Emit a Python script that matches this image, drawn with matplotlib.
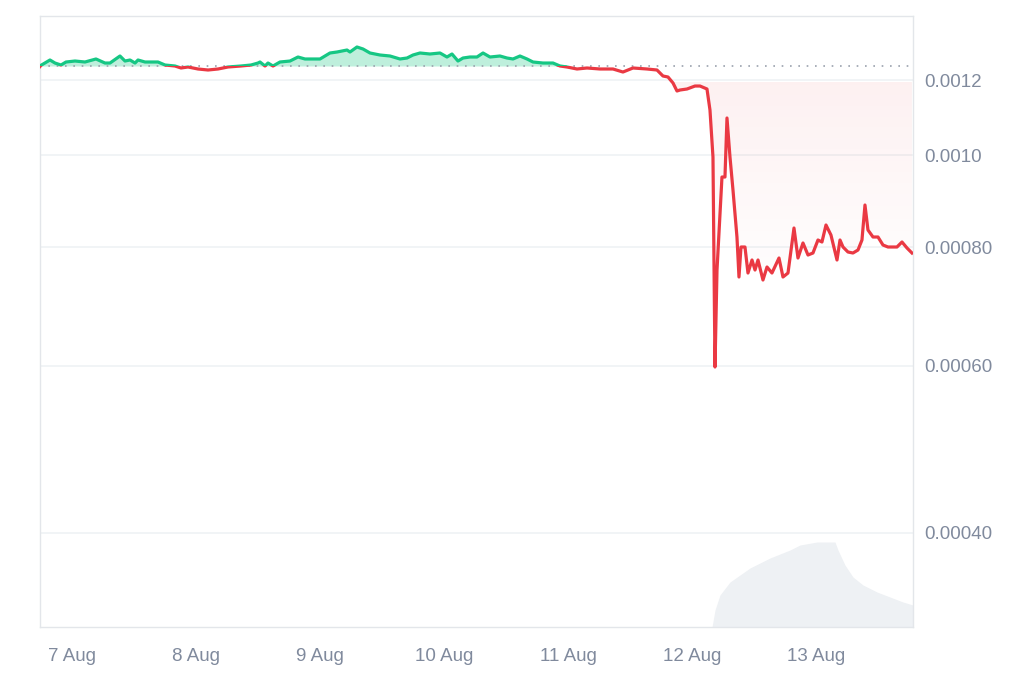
import numpy as np
import matplotlib
matplotlib.use("Agg")
import matplotlib.pyplot as plt
import matplotlib.transforms as mtransforms
from matplotlib.patches import Rectangle
from matplotlib.path import Path

# ---- data (hours since 7 Aug 00:00, price in USD) ----
hours = [-6.19, -6.0, -4.26, -3.29, -2.13, -1.16, 0.58, 2.51, 4.64, 6.38, 7.35, 9.28, 10.25, 11.22,
         12.19, 12.77, 14.12, 16.63, 17.99, 19.92, 21.08, 22.44, 24.37, 26.31, 28.24, 30.17,
         32.69, 34.62, 35.98, 36.36, 37.33, 37.91, 38.88, 40.23, 42.17, 43.71, 45.07, 47.97,
         49.90, 51.26, 53.19, 53.77, 55.12, 56.29, 57.64, 59.57, 61.51, 63.44, 64.80, 65.96,
         67.31, 69.24, 71.18, 72.53, 73.50, 74.66, 75.63, 76.98, 78.33, 79.50, 80.85, 82.78,
         84.14, 85.30, 86.65, 88.01, 89.17, 91.10, 93.04, 94.39, 95.74, 97.68, 99.61, 102.13,
         104.64, 106.57, 108.51, 111.22, 113.15, 114.31, 115.28, 116.25, 117.02, 117.60, 118.96,
         120.50, 121.47, 122.82, 123.40, 123.98, 124.37, 124.76, 125.72, 126.30, 126.69, 127.27,
         127.85, 128.62, 129.01, 129.40, 130.17, 130.75, 131.53, 132.11, 132.69, 133.65, 134.43,
         135.39, 136.75, 137.52, 138.49, 139.65, 140.42, 141.39, 142.36, 143.32, 144.29, 145.06,
         145.84, 146.80, 147.97, 148.55, 149.13, 150.09, 151.06, 152.03, 152.80, 153.38, 153.96,
         154.93, 155.90, 156.86, 157.83, 159.57, 160.54, 161.51, 162.47]
price_milli = [1.2400, 1.2436, 1.2597, 1.2505, 1.2445, 1.2536, 1.2566, 1.2536, 1.2628, 1.2505, 1.2505,
               1.2720, 1.2566, 1.2597, 1.2505, 1.2597, 1.2536, 1.2536, 1.2445, 1.2415, 1.2355,
               1.2385, 1.2325, 1.2295, 1.2325, 1.2385, 1.2415, 1.2445, 1.2505, 1.2536, 1.2415,
               1.2505, 1.2415, 1.2536, 1.2566, 1.2689, 1.2628, 1.2628, 1.2813, 1.2844, 1.2906,
               1.2844, 1.3001, 1.2938, 1.2813, 1.2751, 1.2720, 1.2628, 1.2658, 1.2751, 1.2813,
               1.2782, 1.2813, 1.2689, 1.2782, 1.2566, 1.2658, 1.2689, 1.2689, 1.2813, 1.2689,
               1.2720, 1.2658, 1.2628, 1.2720, 1.2628, 1.2536, 1.2505, 1.2505, 1.2415, 1.2385,
               1.2325, 1.2355, 1.2325, 1.2325, 1.2235, 1.2355, 1.2325, 1.2295, 1.2117, 1.2088,
               1.1913, 1.1684, 1.1712, 1.1741, 1.1826, 1.1826, 1.1741, 1.1157, 0.99543, 0.59795,
               0.75665, 0.94827, 0.94827, 1.0943, 0.99543, 0.91881, 0.81976, 0.74390, 0.80010,
               0.80010, 0.75116, 0.77525, 0.75665, 0.77525, 0.73851, 0.76219, 0.75116, 0.77901,
               0.74390, 0.75116, 0.83786, 0.77901, 0.80791, 0.78471, 0.78853, 0.81381, 0.80987,
               0.84398, 0.82375, 0.77525, 0.81381, 0.80010, 0.79044, 0.78853, 0.79429, 0.81381,
               0.88596, 0.83380, 0.81976, 0.81976, 0.80400, 0.80010, 0.80010, 0.80987, 0.79816,
               0.78853]
reference_price = 0.00124

vol_hours = [-6.19, 123.5, 123.79, 124.37, 125.33, 127.27, 131.14, 135.01, 138.88, 140.81, 144.10,
             147.58, 148.16, 149.51, 151.06, 153.00, 155.71, 158.22, 160.73, 162.67]
volume = [0, 0, 0, 17, 32, 45, 59, 69, 77, 82, 85, 85, 77, 62, 50, 42, 35, 30, 25, 22]

tick_hours = [0, 24, 48, 72, 96, 120, 144]
tick_labels = ["7 Aug", "8 Aug", "9 Aug", "10 Aug", "11 Aug", "12 Aug", "13 Aug"]
ytick_vals = [0.0004, 0.0006, 0.0008, 0.0010, 0.0012]
ytick_labels = ["0.00040", "0.00060", "0.00080", "0.0010", "0.0012"]

# ---- styling ----
GREEN = "#16c784"
RED = "#ea3943"
GRID = "#eff2f5"
SPINE = "#e3e6ea"
TXT = "#808a9d"

plt.rcParams["font.family"] = ["Liberation Sans", "DejaVu Sans"]

x = np.array(hours)
p = np.array(price_milli) * 1e-3
xlim = (-6.19, 162.67)
ylim = (0.00031811, 0.0014017)

fig = plt.figure(figsize=(10.24, 6.83), dpi=100)
pos = [40 / 1024, 1 - 627 / 683, 873 / 1024, 611 / 683]

# volume axis (behind)
axv = fig.add_axes(pos)
axv.fill_between(vol_hours, volume, 0, color="#eef1f4", lw=0)
axv.set_xlim(*xlim)
axv.set_ylim(0, max(volume) * 611 / 85)
axv.axis("off")

ax = fig.add_axes(pos)
ax.patch.set_alpha(0)
ax.set_yscale("log")
ax.set_xlim(*xlim)
ax.set_ylim(*ylim)

# grid
for v in ytick_vals:
    ax.axhline(v, color=GRID, lw=1.2, zorder=0)

# green fill above reference
ax.fill_between(x, p, reference_price, where=p >= reference_price, interpolate=True,
                color=GREEN, alpha=0.28, lw=0, zorder=1)

# red gradient fill below reference
poly = ax.fill_between(x, p, reference_price, where=p < reference_price, interpolate=True,
                       color="none", lw=0, zorder=1)
clip = Path.make_compound_path(*poly.get_paths())
yy = np.linspace(0, 1, 600)[:, None]
alpha = np.clip((yy - 0.5) / 0.39, 0, 1) ** 1.2 * 0.075
alpha[yy[:, 0] > 0.893] = 0
img = np.zeros((600, 1, 4))
img[..., 0], img[..., 1], img[..., 2] = 0xea / 255, 0x39 / 255, 0x43 / 255
img[..., 3] = alpha
im = ax.imshow(img, extent=[0, 1, 0, 1], origin="lower", aspect="auto",
               transform=ax.transAxes, zorder=1, interpolation="nearest")
im.set_clip_path(clip, ax.transData)
ax.set_xlim(*xlim)
ax.set_ylim(*ylim)

# reference dotted line
ax.axhline(reference_price, color="#9aa1ad", lw=1.2, linestyle=(0, (1, 4)), zorder=2)

# price line split by reference level
blend = mtransforms.blended_transform_factory(ax.transAxes, ax.transData)
above = Rectangle((0, reference_price), 1, 1, transform=blend)
below = Rectangle((0, 1e-7), 1, reference_price - 1e-7, transform=blend)
lg, = ax.plot(x, p, color=GREEN, lw=2.3, zorder=3, solid_joinstyle="round")
lr, = ax.plot(x, p, color=RED, lw=2.3, zorder=3, solid_joinstyle="round")
lg.set_clip_path(above)
lr.set_clip_path(below)

# axes cosmetics
for s in ax.spines.values():
    s.set_color(SPINE)
    s.set_linewidth(1.0)

ax.yaxis.tick_right()
ax.minorticks_off()
ax.set_yticks(ytick_vals)
ax.set_yticklabels(ytick_labels)
ax.set_xticks(tick_hours)
ax.set_xticklabels(tick_labels)
ax.tick_params(axis="y", length=0, pad=8, labelsize=13.5, labelcolor=TXT)
ax.tick_params(axis="x", length=0, pad=15, labelsize=13.5, labelcolor=TXT)
ax.yaxis.set_minor_locator(matplotlib.ticker.NullLocator())

fig.savefig("out.png", dpi=100)
